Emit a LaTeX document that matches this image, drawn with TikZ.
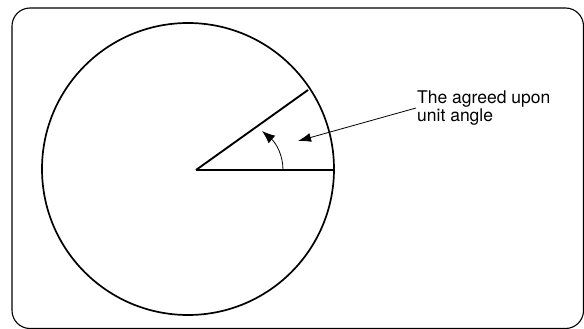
\documentclass[tikz,border=0pt]{standalone}
\usepackage{fontspec}
\setmainfont{TeX Gyre Heros}
\usetikzlibrary{arrows.meta, positioning, calc}

\begin{document}
\begin{tikzpicture}[x=1pt, y=-1pt,
    frame/.style={draw, line width=1.1pt, rounded corners=18pt},
    rim/.style={draw, line width=1.7pt},
    side/.style={line width=1.9pt},
    sweep/.style={-{Latex[length=13pt, width=10pt]}, line width=0.8pt},
    lead/.style={-{Latex[length=13pt, width=9pt]}, line width=0.8pt},
    caption/.style={align=left, inner sep=1pt, font=\fontsize{17.5}{18}\selectfont}
]
\useasboundingbox (0,0) rectangle (584,329);
\clip (0,0) rectangle (584,329);
\draw[frame] (12,8) rectangle (583.5,328.5);

% circle and the two sides of the angle
\coordinate (O) at (196,170);
\coordinate (R) at (335,170);
\coordinate (S) at (308,90);
\draw[rim] (188,169) circle[radius=146];
\draw[side] (O) -- (R);
\draw[side] (O) -- (S);

% sweep arrow
\coordinate (A0) at (283,170);
\coordinate (A1) at (262,131);
\draw[sweep] (A0) .. controls (283,155) and (276,143) .. (A1);

% label with leader
\node[caption, anchor=west] (label) at (416,108) {The agreed upon\\unit angle};
\coordinate (tip) at (298,141);
\draw[lead] (label.west) -- (tip);
\end{tikzpicture}
\end{document}
